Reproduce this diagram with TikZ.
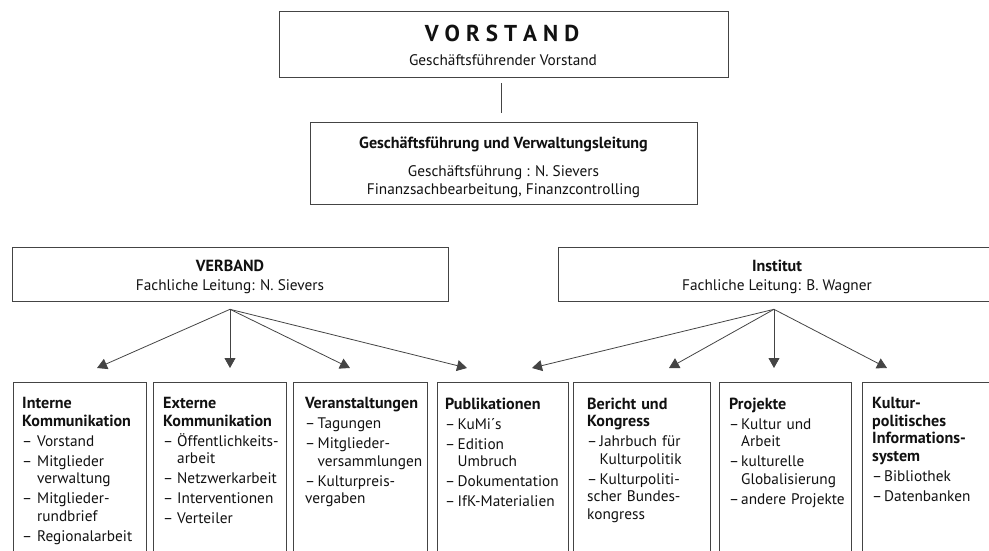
\documentclass[tikz,border=0pt]{standalone}
\usepackage{fontspec}
\setmainfont{PT Sans}
\usetikzlibrary{arrows.meta,calc}
\definecolor{ln}{HTML}{444444}
\definecolor{tx}{HTML}{111111}
\newlength{\hng}
\newcommand{\itm}[1]{\par\hangindent=\hng\hangafter=1\noindent\makebox[\hng][l]{–}#1}
\newcommand{\ls}{\kern6pt}
\newcommand{\bft}{\fontsize{16.1}{17.5}\selectfont\bfseries}
\tikzset{
  hbox/.style={draw=ln, line width=1.1pt, inner sep=0pt, anchor=north west},
  ht/.style={anchor=base, inner sep=0pt, text=tx, font=\fontsize{15.3}{17.5}\selectfont},
  htb/.style={ht, font=\bft},
  coltext/.style={anchor=north west, inner sep=0pt, text width=150pt, text=tx,
    font=\fontsize{15.3}{17.5}\selectfont},
  arr/.style={draw=ln, line width=0.8pt, -{Triangle[length=10pt,width=11pt]}},
  conn/.style={draw=ln, line width=0.9pt}
}
\begin{document}
\begin{tikzpicture}[x=1pt,y=-1pt]
\useasboundingbox (0,0) rectangle (989,550);
\clip (0,0) rectangle (989,550);
% header boxes
\node[hbox, minimum width=449pt, minimum height=65.7pt] (top) at (279,11) {};
\node[hbox, minimum width=387pt, minimum height=82pt] (mid) at (310,122) {};
\node[hbox, minimum width=436pt, minimum height=54pt] (verb) at (12,247) {};
\node[hbox, minimum width=438pt, minimum height=54pt] (inst) at (558,247) {};
% header texts
\node[anchor=base, inner sep=0pt, text=tx, font=\fontsize{23}{23}\selectfont\bfseries] (vt) at (502,41.7) {V\ls O\ls R\ls S\ls T\ls A\ls N\ls D};
\node[ht] (vs) at (503,65) {Geschäftsführender Vorstand};
\node[htb] (gt) at (503.5,148) {Geschäftsführung und Verwaltungsleitung};
\node[ht] (g1) at (503.5,176.5) {Geschäftsführung : N. Sievers};
\node[ht] (g2) at (503.5,194.5) {Finanzsachbearbeitung, Finanzcontrolling};
\node[htb] (vb1) at (230,271.7) {VERBAND};
\node[ht] (vb2) at (230,290) {Fachliche Leitung: N. Sievers};
\node[htb] (in1) at (777,271.7) {Institut};
\node[ht] (in2) at (777,290) {Fachliche Leitung: B. Wagner};
% connector top -> mid
\coordinate (l1) at (501,83);
\coordinate (l2) at (501,113);
\draw[conn] (l1) -- (l2);
% bottom boxes
\node[hbox, minimum width=133pt, minimum height=200pt] (b1) at (13,382) {};
\node[hbox, minimum width=133pt, minimum height=200pt] (b2) at (153,382) {};
\node[hbox, minimum width=134pt, minimum height=200pt] (b3) at (293,382) {};
\node[hbox, minimum width=131pt, minimum height=200pt] (b4) at (437,382) {};
\node[hbox, minimum width=137pt, minimum height=200pt] (b5) at (573,382) {};
\node[hbox, minimum width=132pt, minimum height=200pt] (b6) at (719,382) {};
\node[hbox, minimum width=140pt, minimum height=200pt] (b7) at (862,382) {};
% column texts
\node[coltext] (t1) at (22,397.5) {\raggedright\parskip=2.5pt\setlength{\hng}{15pt}%
{\bft Interne\newline Kommunikation\par}%
\itm{Vorstand}\itm{Mitglieder\newline verwaltung}\itm{Mitglieder-\newline rundbrief}\itm{Regionalarbeit}};
\node[coltext] (t2) at (163,397.5) {\raggedright\parskip=2.5pt\setlength{\hng}{14pt}%
{\bft Externe\newline Kommunikation\par}%
\itm{Öffentlichkeits-\newline arbeit}\itm{Netzwerkarbeit}\itm{Interventionen}\itm{Verteiler}};
\node[coltext] (t3) at (305,397.5) {\raggedright\parskip=2.5pt\setlength{\hng}{12.5pt}%
{\bft Veranstaltungen\par}%
\itm{Tagungen}\itm{Mitglieder-\newline versammlungen}\itm{Kulturpreis-\newline vergaben}};
\node[coltext] (t4) at (445,397.5) {\raggedright\parskip=2.5pt\setlength{\hng}{12.5pt}%
{\bft Publikationen\par}%
\itm{KuMi´s}\itm{Edition\newline Umbruch}\itm{Dokumentation}\itm{IfK-Materialien}};
\node[coltext] (t5) at (587,397.5) {\raggedright\parskip=2.5pt\setlength{\hng}{12.5pt}%
{\bft Bericht und\newline Kongress\par}%
\itm{Jahrbuch für\newline Kulturpolitik}\itm{Kulturpoliti-\newline scher Bundes-\newline kongress}};
\node[coltext] (t6) at (729,397.5) {\raggedright\parskip=2.5pt\setlength{\hng}{12pt}%
{\bft Projekte\par}%
\itm{Kultur und\newline Arbeit}\itm{kulturelle\newline Globalisierung}\itm{andere Projekte}};
\node[coltext] (t7) at (872,397.5) {\raggedright\parskip=2.5pt\setlength{\hng}{12pt}%
{\bft Kultur-\newline politisches\newline Informations-\newline system\par}%
\itm{Bibliothek}\itm{Datenbanken}};
% arrows
\coordinate (vo) at (230,309.3);
\coordinate (io) at (774,309.3);
\coordinate (a1) at (97,368);
\coordinate (a2) at (230,368);
\coordinate (a3) at (350,368);
\coordinate (a4) at (467,368);
\coordinate (a5) at (532,368);
\coordinate (a6) at (669,368);
\coordinate (a7) at (774,368);
\coordinate (a8) at (887,368);
\foreach \t in {a1,a2,a3,a4} \draw[arr] (vo) -- (\t);
\foreach \t in {a5,a6,a7,a8} \draw[arr] (io) -- (\t);
\end{tikzpicture}
\end{document}
